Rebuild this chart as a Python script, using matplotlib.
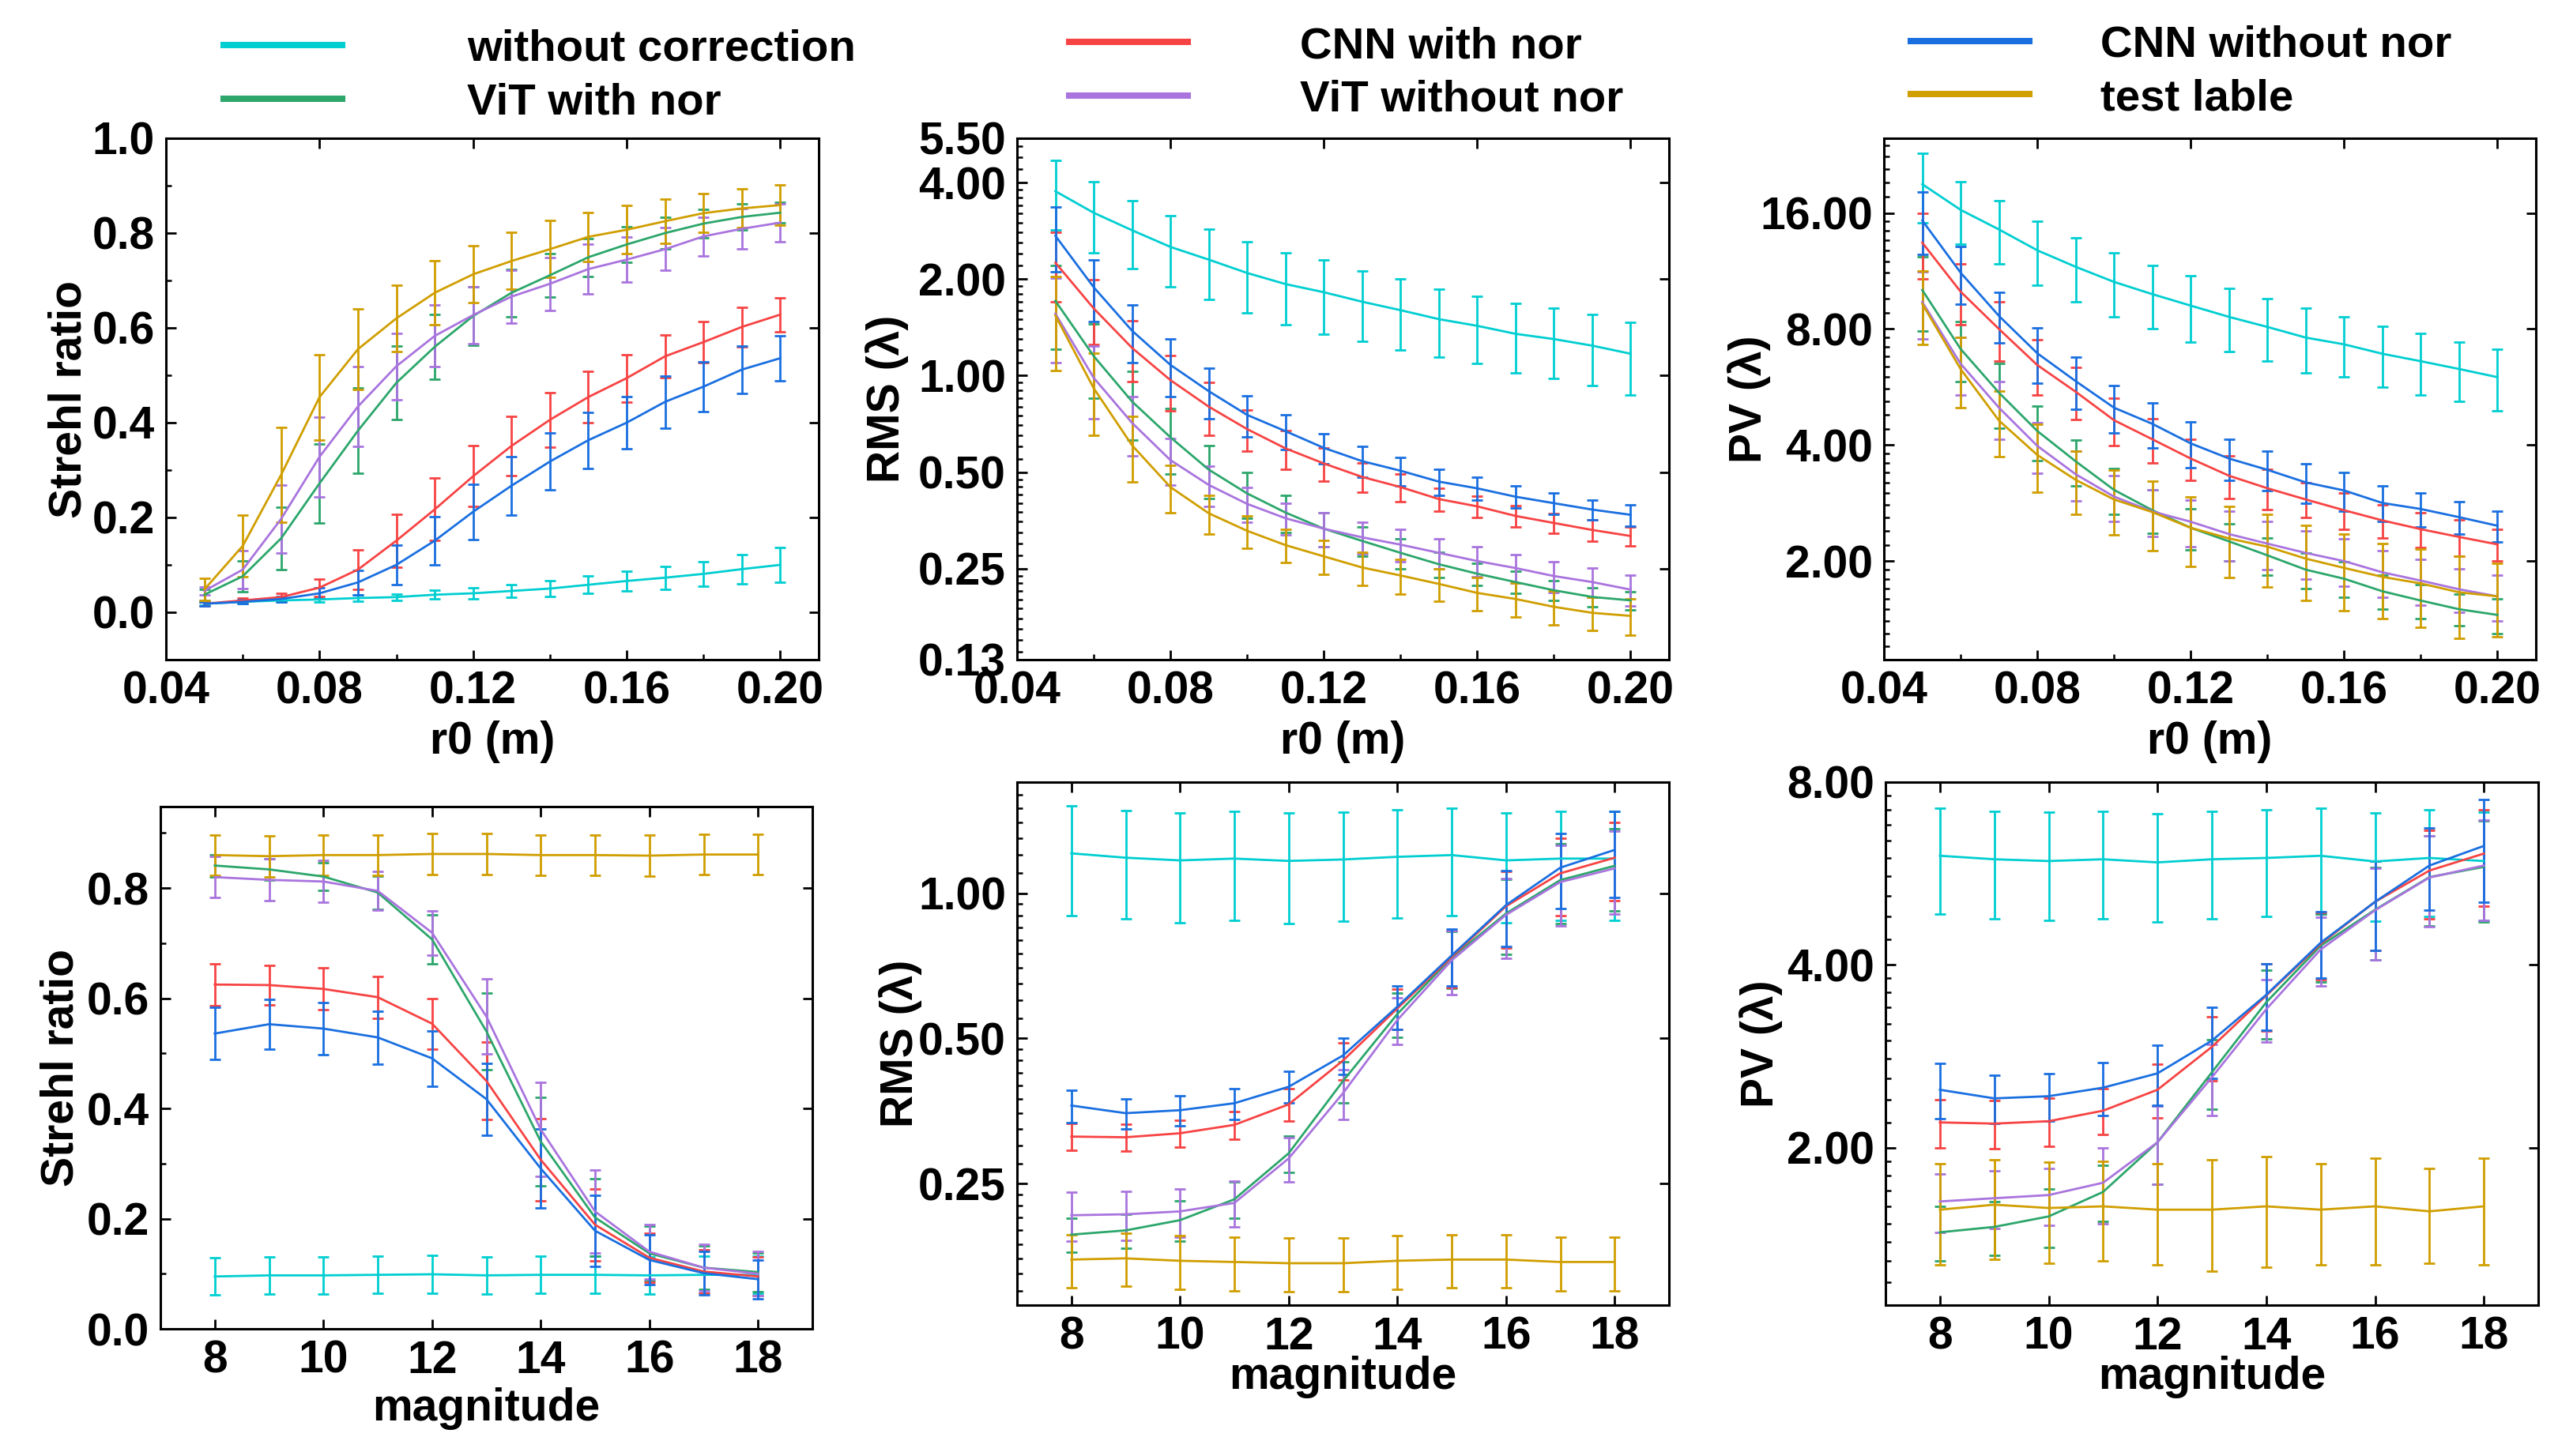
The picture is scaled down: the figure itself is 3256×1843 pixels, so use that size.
import numpy as np
import matplotlib
matplotlib.use('Agg')
import matplotlib.pyplot as plt
from matplotlib.lines import Line2D
from matplotlib.ticker import FixedLocator, LogLocator, NullFormatter, FormatStrFormatter

plt.rcParams['font.family'] = ['Liberation Sans', 'DejaVu Sans']
plt.rcParams['font.weight'] = 'bold'

# x values
r0 = [0.05, 0.06, 0.07, 0.08, 0.09, 0.10, 0.11, 0.12, 0.13, 0.14, 0.15, 0.16, 0.17, 0.18, 0.19, 0.20]
mag = [8, 9, 10, 11, 12, 13, 14, 15, 16, 17, 18]

names = ['without correction', 'ViT with nor', 'CNN with nor', 'ViT without nor', 'CNN without nor', 'test lable']
colors = ['#00CED1', '#2CA66B', '#F74343', '#A974DE', '#1A6FE0', '#D09E00']

# Strehl ratio vs r0
sr_r0 = {
    'without correction': [0.018, 0.022, 0.025, 0.027, 0.030, 0.032, 0.037, 0.040, 0.045, 0.050, 0.058, 0.066, 0.073, 0.081, 0.091, 0.100],
    'ViT with nor': [0.037, 0.076, 0.156, 0.272, 0.383, 0.484, 0.560, 0.625, 0.674, 0.711, 0.749, 0.776, 0.800, 0.820, 0.834, 0.843],
    'CNN with nor': [0.018, 0.025, 0.032, 0.052, 0.090, 0.151, 0.217, 0.287, 0.351, 0.406, 0.454, 0.494, 0.540, 0.570, 0.602, 0.628],
    'ViT without nor': [0.045, 0.090, 0.197, 0.328, 0.434, 0.519, 0.583, 0.627, 0.666, 0.693, 0.724, 0.744, 0.766, 0.793, 0.809, 0.822],
    'CNN without nor': [0.018, 0.022, 0.028, 0.040, 0.063, 0.100, 0.151, 0.212, 0.267, 0.318, 0.363, 0.400, 0.444, 0.476, 0.512, 0.536],
    'test lable': [0.048, 0.140, 0.290, 0.454, 0.555, 0.620, 0.674, 0.713, 0.741, 0.766, 0.792, 0.807, 0.825, 0.842, 0.852, 0.859],
}
sr_r0_err = {
    'without correction': [0.003, 0.003, 0.004, 0.005, 0.006, 0.007, 0.009, 0.011, 0.014, 0.016, 0.018, 0.021, 0.024, 0.026, 0.031, 0.036],
    'ViT with nor': [0.012, 0.033, 0.066, 0.083, 0.090, 0.078, 0.068, 0.061, 0.050, 0.046, 0.040, 0.037, 0.033, 0.030, 0.028, 0.022],
    'CNN with nor': [0.004, 0.005, 0.008, 0.018, 0.042, 0.056, 0.066, 0.064, 0.062, 0.058, 0.054, 0.050, 0.045, 0.043, 0.042, 0.036],
    'ViT without nor': [0.008, 0.040, 0.072, 0.084, 0.084, 0.070, 0.065, 0.060, 0.056, 0.056, 0.052, 0.047, 0.045, 0.041, 0.043, 0.040],
    'CNN without nor': [0.004, 0.004, 0.006, 0.012, 0.026, 0.042, 0.051, 0.058, 0.062, 0.060, 0.059, 0.055, 0.055, 0.053, 0.050, 0.047],
    'test lable': [0.023, 0.065, 0.100, 0.090, 0.085, 0.070, 0.068, 0.060, 0.060, 0.060, 0.052, 0.051, 0.046, 0.041, 0.041, 0.042],
}

# RMS vs r0
rms_r0 = {
    'without correction': [3.76, 3.22, 2.84, 2.52, 2.30, 2.09, 1.93, 1.82, 1.70, 1.60, 1.50, 1.43, 1.35, 1.30, 1.24, 1.17],
    'ViT with nor': [1.71, 1.15, 0.83, 0.642, 0.509, 0.429, 0.374, 0.333, 0.305, 0.280, 0.258, 0.241, 0.227, 0.214, 0.204, 0.199],
    'CNN with nor': [2.25, 1.62, 1.22, 0.968, 0.80, 0.681, 0.593, 0.532, 0.483, 0.449, 0.412, 0.391, 0.365, 0.347, 0.330, 0.316],
    'ViT without nor': [1.56, 0.984, 0.712, 0.545, 0.456, 0.398, 0.359, 0.333, 0.313, 0.297, 0.280, 0.264, 0.251, 0.237, 0.227, 0.215],
    'CNN without nor': [2.73, 1.886, 1.38, 1.08, 0.894, 0.754, 0.671, 0.595, 0.541, 0.505, 0.467, 0.445, 0.419, 0.400, 0.382, 0.368],
    'test lable': [1.54, 0.913, 0.606, 0.449, 0.372, 0.328, 0.296, 0.273, 0.252, 0.238, 0.224, 0.210, 0.201, 0.190, 0.182, 0.178],
}
rms_r0_err = {
    'without correction': [0.92, 0.80, 0.68, 0.63, 0.57, 0.52, 0.49, 0.47, 0.42, 0.40, 0.36, 0.34, 0.33, 0.32, 0.31, 0.30],
    'ViT with nor': [0.50, 0.30, 0.20, 0.15, 0.095, 0.07, 0.05, 0.04, 0.032, 0.03, 0.023, 0.019, 0.018, 0.015, 0.014, 0.013],
    'CNN with nor': [0.55, 0.37, 0.26, 0.19, 0.15, 0.10, 0.082, 0.063, 0.050, 0.044, 0.034, 0.030, 0.028, 0.025, 0.025, 0.021],
    'ViT without nor': [0.46, 0.25, 0.15, 0.09, 0.065, 0.05, 0.04, 0.04, 0.035, 0.035, 0.03, 0.028, 0.026, 0.026, 0.024, 0.024],
    'CNN without nor': [0.62, 0.41, 0.28, 0.22, 0.16, 0.11, 0.083, 0.065, 0.06, 0.052, 0.043, 0.037, 0.033, 0.03, 0.028, 0.028],
    'test lable': [0.50, 0.26, 0.14, 0.075, 0.052, 0.038, 0.035, 0.033, 0.030, 0.030, 0.026, 0.025, 0.024, 0.023, 0.022, 0.023],
}

# PV vs r0
pv_r0 = {
    'without correction': [19.0, 16.3, 14.5, 12.8, 11.6, 10.6, 9.85, 9.2, 8.6, 8.1, 7.6, 7.3, 6.9, 6.6, 6.3, 6.0],
    'ViT with nor': [10.1, 7.1, 5.47, 4.35, 3.63, 3.06, 2.71, 2.44, 2.25, 2.07, 1.90, 1.80, 1.67, 1.58, 1.50, 1.45],
    'CNN with nor': [13.4, 10.0, 8.0, 6.45, 5.5, 4.64, 4.14, 3.69, 3.33, 3.09, 2.89, 2.71, 2.55, 2.42, 2.31, 2.21],
    'ViT without nor': [9.4, 6.5, 5.0, 3.98, 3.36, 2.94, 2.69, 2.53, 2.35, 2.22, 2.10, 2.00, 1.87, 1.78, 1.69, 1.62],
    'CNN without nor': [15.3, 11.2, 8.65, 6.92, 5.86, 5.0, 4.54, 4.04, 3.69, 3.45, 3.2, 3.05, 2.83, 2.73, 2.6, 2.47],
    'test lable': [9.3, 6.3, 4.63, 3.77, 3.25, 2.89, 2.68, 2.44, 2.29, 2.18, 2.03, 1.92, 1.82, 1.75, 1.66, 1.62],
}
pv_r0_err = {
    'without correction': [3.9, 3.0, 2.7, 2.4, 2.2, 2.0, 1.85, 1.8, 1.6, 1.5, 1.45, 1.3, 1.25, 1.2, 1.1, 1.1],
    'ViT with nor': [2.2, 1.25, 1.05, 0.7, 0.5, 0.42, 0.35, 0.3, 0.25, 0.23, 0.2, 0.19, 0.17, 0.16, 0.14, 0.15],
    'CNN with nor': [2.6, 1.8, 1.4, 1.05, 0.85, 0.65, 0.55, 0.45, 0.42, 0.37, 0.3, 0.29, 0.25, 0.25, 0.25, 0.21],
    'ViT without nor': [1.85, 1.1, 0.85, 0.6, 0.5, 0.4, 0.37, 0.35, 0.35, 0.32, 0.3, 0.28, 0.26, 0.24, 0.22, 0.22],
    'CNN without nor': [2.8, 1.9, 1.3, 1.12, 0.9, 0.7, 0.6, 0.55, 0.45, 0.4, 0.38, 0.35, 0.3, 0.28, 0.25, 0.23],
    'test lable': [2.0, 1.3, 0.9, 0.75, 0.6, 0.55, 0.55, 0.5, 0.48, 0.47, 0.45, 0.43, 0.4, 0.4, 0.4, 0.35],
}

# Strehl ratio vs magnitude
sr_mag = {
    'without correction': [0.095, 0.097, 0.097, 0.098, 0.099, 0.097, 0.098, 0.098, 0.097, 0.098, 0.098],
    'ViT with nor': [0.841, 0.834, 0.821, 0.792, 0.707, 0.540, 0.340, 0.202, 0.137, 0.111, 0.103],
    'CNN with nor': [0.625, 0.624, 0.617, 0.602, 0.554, 0.450, 0.307, 0.189, 0.129, 0.104, 0.095],
    'ViT without nor': [0.820, 0.815, 0.812, 0.795, 0.719, 0.567, 0.362, 0.213, 0.140, 0.111, 0.100],
    'CNN without nor': [0.536, 0.553, 0.545, 0.529, 0.491, 0.417, 0.291, 0.178, 0.125, 0.101, 0.090],
    'test lable': [0.860, 0.858, 0.860, 0.860, 0.862, 0.862, 0.860, 0.860, 0.859, 0.861, 0.861],
}
sr_mag_err = {
    'without correction': [0.034, 0.034, 0.034, 0.034, 0.034, 0.034, 0.034, 0.034, 0.034, 0.034, 0.034],
    'ViT with nor': [0.02, 0.02, 0.025, 0.03, 0.045, 0.07, 0.08, 0.07, 0.05, 0.04, 0.035],
    'CNN with nor': [0.038, 0.036, 0.038, 0.038, 0.046, 0.07, 0.075, 0.065, 0.045, 0.04, 0.035],
    'ViT without nor': [0.037, 0.038, 0.038, 0.035, 0.04, 0.068, 0.085, 0.075, 0.05, 0.042, 0.04],
    'CNN without nor': [0.047, 0.045, 0.047, 0.048, 0.05, 0.065, 0.072, 0.065, 0.045, 0.04, 0.035],
    'test lable': [0.037, 0.037, 0.037, 0.037, 0.037, 0.037, 0.037, 0.037, 0.037, 0.037, 0.037],
}

# RMS vs magnitude
rms_mag = {
    'without correction': [1.21, 1.185, 1.17, 1.18, 1.167, 1.175, 1.19, 1.20, 1.17, 1.18, 1.18],
    'ViT with nor': [0.196, 0.200, 0.210, 0.232, 0.289, 0.408, 0.562, 0.735, 0.908, 1.065, 1.14],
    'CNN with nor': [0.313, 0.312, 0.318, 0.331, 0.365, 0.450, 0.577, 0.738, 0.940, 1.10, 1.185],
    'ViT without nor': [0.215, 0.216, 0.219, 0.228, 0.282, 0.385, 0.546, 0.726, 0.902, 1.055, 1.126],
    'CNN without nor': [0.363, 0.350, 0.355, 0.367, 0.397, 0.461, 0.582, 0.743, 0.945, 1.13, 1.23],
    'test lable': [0.174, 0.175, 0.173, 0.172, 0.171, 0.171, 0.173, 0.174, 0.174, 0.172, 0.172],
}
rms_mag_err = {
    'without correction': [0.31, 0.30, 0.30, 0.30, 0.30, 0.30, 0.30, 0.30, 0.30, 0.30, 0.30],
    'ViT with nor': [0.016, 0.016, 0.02, 0.02, 0.025, 0.04, 0.06, 0.1, 0.16, 0.2, 0.22],
    'CNN with nor': [0.02, 0.02, 0.02, 0.022, 0.028, 0.04, 0.055, 0.1, 0.17, 0.2, 0.22],
    'ViT without nor': [0.025, 0.025, 0.025, 0.025, 0.03, 0.045, 0.06, 0.11, 0.17, 0.2, 0.22],
    'CNN without nor': [0.028, 0.025, 0.025, 0.027, 0.03, 0.04, 0.06, 0.1, 0.17, 0.2, 0.25],
    'test lable': [0.022, 0.022, 0.022, 0.022, 0.022, 0.022, 0.022, 0.022, 0.022, 0.022, 0.022],
}

# PV vs magnitude
pv_mag = {
    'without correction': [6.05, 5.97, 5.93, 5.97, 5.90, 5.97, 6.00, 6.05, 5.92, 6.00, 5.93],
    'ViT with nor': [1.45, 1.48, 1.54, 1.69, 2.04, 2.66, 3.47, 4.30, 4.93, 5.58, 5.80],
    'CNN with nor': [2.20, 2.19, 2.21, 2.30, 2.49, 2.93, 3.56, 4.33, 5.08, 5.72, 6.10],
    'ViT without nor': [1.63, 1.65, 1.67, 1.75, 2.04, 2.61, 3.38, 4.24, 4.92, 5.57, 5.83],
    'CNN without nor': [2.49, 2.41, 2.43, 2.51, 2.65, 3.00, 3.57, 4.35, 5.08, 5.83, 6.28],
    'test lable': [1.58, 1.61, 1.59, 1.60, 1.58, 1.58, 1.60, 1.58, 1.60, 1.57, 1.60],
}
pv_mag_err = {
    'without correction': [1.2, 1.2, 1.2, 1.2, 1.2, 1.2, 1.2, 1.2, 1.2, 1.2, 1.2],
    'ViT with nor': [0.15, 0.15, 0.17, 0.18, 0.3, 0.35, 0.45, 0.55, 0.85, 0.95, 1.1],
    'CNN with nor': [0.2, 0.2, 0.2, 0.2, 0.25, 0.35, 0.45, 0.55, 0.85, 0.95, 1.1],
    'ViT without nor': [0.18, 0.18, 0.18, 0.25, 0.3, 0.35, 0.4, 0.55, 0.85, 0.95, 1.1],
    'CNN without nor': [0.26, 0.22, 0.22, 0.25, 0.3, 0.4, 0.45, 0.55, 0.85, 0.9, 1.2],
    'test lable': [0.3, 0.3, 0.3, 0.3, 0.3, 0.33, 0.33, 0.3, 0.32, 0.28, 0.32],
}

W, H = 3256, 1843
fig = plt.figure(figsize=(W / 200, H / 200), dpi=200)


def px_axes(x0, y0, x1, y1):
    return fig.add_axes([x0 / W, 1 - y1 / H, (x1 - x0) / W, (y1 - y0) / H])


def draw(ax, x, means, errs):
    for name, c in zip(names, colors):
        ax.errorbar(x, means[name], yerr=errs[name], color=c, lw=1.0,
                    elinewidth=1.0, capsize=2.6, capthick=1.0)


def style(ax):
    for s in ax.spines.values():
        s.set_linewidth(1.1)
    ax.tick_params(which='major', direction='in', length=4.5, width=1.0,
                   labelsize=20.5, pad=5, top=True, right=True)
    ax.tick_params(which='minor', direction='in', length=2.5, width=0.9,
                   top=False, right=False)
    for lab in ax.get_xticklabels() + ax.get_yticklabels():
        lab.set_fontweight('bold')


# panel positions in pixels (left, top, right, bottom)
ax1 = px_axes(210, 175, 1036, 835)
ax2 = px_axes(1287, 175, 2112, 835)
ax3 = px_axes(2384, 175, 3209, 835)
ax4 = px_axes(203, 1021, 1028, 1682)
ax5 = px_axes(1287, 990, 2112, 1652)
ax6 = px_axes(2386, 990, 3212, 1652)

draw(ax1, r0, sr_r0, sr_r0_err)
draw(ax2, r0, rms_r0, rms_r0_err)
draw(ax3, r0, pv_r0, pv_r0_err)
draw(ax4, mag, sr_mag, sr_mag_err)
draw(ax5, mag, rms_mag, rms_mag_err)
draw(ax6, mag, pv_mag, pv_mag_err)

# x axes
for ax in (ax1, ax2, ax3):
    ax.set_xlim(0.04, 0.21)
    ax.xaxis.set_major_locator(FixedLocator([0.04, 0.08, 0.12, 0.16, 0.20]))
    ax.xaxis.set_minor_locator(FixedLocator([0.06, 0.10, 0.14, 0.18]))
    ax.xaxis.set_major_formatter(FormatStrFormatter('%.2f'))
    ax.set_xlabel('r0 (m)', fontsize=20.5, fontweight='bold')
    ax.xaxis.set_label_coords(0.5, -0.117)
for ax in (ax4, ax5, ax6):
    ax.set_xlim(7, 19)
    ax.xaxis.set_major_locator(FixedLocator([8, 10, 12, 14, 16, 18]))
    ax.set_xlabel('magnitude', fontsize=20.5, fontweight='bold')
ax4.xaxis.set_label_coords(0.5, -0.112)
ax5.xaxis.set_label_coords(0.5, -0.097)
ax6.xaxis.set_label_coords(0.5, -0.097)

# linear Strehl axes
ax1.set_ylim(-0.1, 1.0)
ax1.yaxis.set_major_locator(FixedLocator([0.0, 0.2, 0.4, 0.6, 0.8, 1.0]))
ax4.set_ylim(0.0, 0.948)
ax4.yaxis.set_major_locator(FixedLocator([0.0, 0.2, 0.4, 0.6, 0.8]))
for ax in (ax1, ax4):
    ax.yaxis.set_minor_locator(FixedLocator([0.1, 0.3, 0.5, 0.7, 0.9]))
    ax.yaxis.set_major_formatter(FormatStrFormatter('%.1f'))
    ax.set_ylabel('Strehl ratio', fontsize=20.5, fontweight='bold')

# log axes
log_cfg = [
    (ax2, (0.13, 5.5), [0.13, 0.25, 0.5, 1.0, 2.0, 4.0, 5.5], 'RMS (λ)'),
    (ax3, (1.11, 25.0), [2.0, 4.0, 8.0, 16.0], 'PV (λ)'),
    (ax5, (0.14, 1.70), [0.25, 0.5, 1.0], 'RMS (λ)'),
    (ax6, (1.10, 8.0), [2.0, 4.0, 8.0], 'PV (λ)'),
]
for ax, lim, ticks, lab in log_cfg:
    ax.set_yscale('log')
    ax.set_ylim(*lim)
    ax.yaxis.set_major_locator(FixedLocator(ticks))
    ax.yaxis.set_major_formatter(FormatStrFormatter('%.2f'))
    ax.yaxis.set_minor_locator(LogLocator(base=2, subs=np.arange(1.1, 2.0, 0.1)))
    ax.yaxis.set_minor_formatter(NullFormatter())
    ax.set_ylabel(lab, fontsize=20.5, fontweight='bold')

ax1.yaxis.set_label_coords(-0.116, 0.5)
ax2.yaxis.set_label_coords(-0.166, 0.5)
ax3.yaxis.set_label_coords(-0.173, 0.5)
ax4.yaxis.set_label_coords(-0.119, 0.5)
ax5.yaxis.set_label_coords(-0.145, 0.5)
ax6.yaxis.set_label_coords(-0.157, 0.5)

for ax in (ax1, ax2, ax3, ax4, ax5, ax6):
    style(ax)

# legend: three columns of two entries each
leg_cols = [
    (283, 0.980, 2.80, [0, 1]),
    (1353, 0.982, 2.52, [2, 3]),
    (2418, 0.983, 1.60, [4, 5]),
]
for x0, ytop, pad, idx in leg_cols:
    handles = [Line2D([], [], color=colors[i], lw=2.9) for i in idx]
    fig.legend(handles, [names[i] for i in idx], loc='upper left',
               bbox_to_anchor=(x0 / W, ytop), frameon=False, borderpad=0,
               borderaxespad=0, handlelength=2.66, handletextpad=pad,
               labelspacing=0.28, prop={'size': 20.3, 'weight': 'bold'})

fig.savefig('out.png', dpi=200)
